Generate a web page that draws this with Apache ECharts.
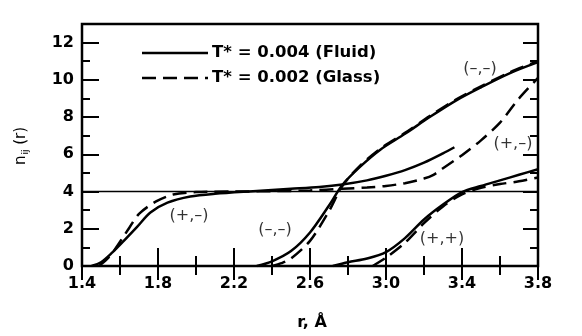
<!DOCTYPE html>
<html>
<head>
<meta charset="utf-8">
<script src="https://cdn.jsdelivr.net/npm/echarts@6/dist/echarts.min.js"></script>
<style>html,body{margin:0;padding:0;background:#fff;}#c{width:582px;height:336px;}</style>
</head>
<body>
<div id="c"></div>
<script>
// ---- data ----
const xTicks = [1.4, 1.8, 2.2, 2.6, 3.0, 3.4, 3.8];
const yTicks = [0, 2, 4, 6, 8, 10, 12];

const fluidPM_r = [1.45, 1.5, 1.56, 1.62, 1.69, 1.76, 1.85, 1.97, 2.1, 2.3, 2.5, 2.65, 2.77, 2.9, 3.0, 3.1, 3.2, 3.3, 3.36];
const fluidPM_n = [0, 0.2, 0.73, 1.35, 2.1, 2.87, 3.4, 3.73, 3.88, 4.02, 4.15, 4.25, 4.38, 4.6, 4.85, 5.15, 5.55, 6.05, 6.38];

const glassPM_r = [1.49, 1.53, 1.57, 1.61, 1.65, 1.7, 1.79, 1.88, 2.0, 2.2, 2.4, 2.6, 2.77, 2.9, 3.0, 3.1, 3.2, 3.25, 3.3, 3.4, 3.5, 3.6, 3.7, 3.8];
const glassPM_n = [0, 0.35, 0.85, 1.45, 2.07, 2.8, 3.47, 3.84, 3.97, 4.0, 4.02, 4.06, 4.15, 4.22, 4.3, 4.45, 4.7, 4.9, 5.25, 5.95, 6.75, 7.7, 9.0, 10.1];

const fluidMM_r = [2.32, 2.4, 2.5, 2.6, 2.7, 2.77, 2.86, 2.97, 3.1, 3.23, 3.37, 3.5, 3.65, 3.8];
const fluidMM_n = [0, 0.25, 0.8, 1.8, 3.25, 4.35, 5.3, 6.25, 7.1, 8.0, 8.9, 9.6, 10.35, 10.95];

const glassMM_r = [2.4, 2.45, 2.5, 2.6, 2.7, 2.77, 2.86, 2.97, 3.1, 3.23, 3.37, 3.5, 3.65, 3.8];
const glassMM_n = [0, 0.15, 0.4, 1.35, 2.95, 4.3, 5.35, 6.3, 7.15, 8.05, 8.95, 9.65, 10.4, 11.0];

const fluidPP_r = [2.72, 2.8, 2.9, 3.0, 3.1, 3.2, 3.3, 3.4, 3.5, 3.6, 3.7, 3.8];
const fluidPP_n = [0, 0.2, 0.4, 0.75, 1.5, 2.5, 3.3, 3.97, 4.3, 4.6, 4.9, 5.2];

const glassPP_r = [2.93, 3.0, 3.1, 3.2, 3.3, 3.4, 3.5, 3.6, 3.7, 3.8];
const glassPP_n = [0, 0.45, 1.25, 2.3, 3.2, 3.85, 4.2, 4.4, 4.55, 4.75];

const refLine_r = [1.4, 3.8];
const refLine_n = [4, 4];

const annoText = ['(+,–)', '(–,–)', '(+,+)', '(–,–)', '(+,–)'];
const annoR    = [1.963, 2.416, 3.295, 3.495, 3.668];
const annoN    = [2.72, 1.92, 1.44, 10.6, 6.56];

const fluidName = 'T* = 0.004 (Fluid)';
const glassName = 'T* = 0.002 (Glass)';

// ---- build ----
const pairs = (xs, ys) => xs.map((x, i) => [x, ys[i]]);
const FONT = 'DejaVu Sans';
const DASH = [14, 7];

function curve(name, xs, ys, dashed) {
  return {
    type: 'line', name, data: pairs(xs, ys), smooth: 0.3, symbol: 'none',
    xAxisIndex: 0, yAxisIndex: 0,
    lineStyle: { color: '#000', width: 2.5, type: dashed ? DASH : 'solid' },
    itemStyle: { color: '#000' }, z: 3
  };
}

const chart = echarts.init(document.getElementById('c'), null, { renderer: 'canvas' });
const gridBox = { left: 82, right: 44, top: 24, bottom: 69 };
const yMax = 13;

function legendRow(y, name, dashed) {
  return [
    { type: 'line', shape: { x1: 142, y1: y, x2: 208, y2: y },
      style: { stroke: '#000', lineWidth: 2.5, lineDash: dashed ? DASH : null } },
    { type: 'text', x: 212, y: y, style: { text: name, fill: '#000', fontFamily: FONT,
      fontWeight: 'bold', fontSize: 16.5, verticalAlign: 'middle', align: 'left' } }
  ];
}

const option = {
  animation: false,
  backgroundColor: '#fff',
  grid: Object.assign({ show: true, borderColor: '#000', borderWidth: 2.5, backgroundColor: 'transparent' }, gridBox),
  xAxis: [
    { type: 'value', min: xTicks[0], max: xTicks[xTicks.length - 1], interval: 0.4, position: 'bottom',
      axisLine: { show: false }, splitLine: { show: false },
      axisTick: { inside: true, length: 18, lineStyle: { color: '#000', width: 2 } },
      minorTick: { show: true, splitNumber: 2, length: 10, lineStyle: { color: '#000', width: 2 } },
      axisLabel: { margin: 10, color: '#000', fontFamily: FONT, fontWeight: 'bold', fontSize: 16,
        formatter: v => v.toFixed(1) },
      name: 'r, Å', nameLocation: 'middle', nameGap: 49,
      nameTextStyle: { color: '#000', fontFamily: FONT, fontWeight: 'bold', fontSize: 16, padding: [0, 0, 0, 4] } },
    { type: 'value', min: xTicks[0], max: xTicks[xTicks.length - 1], interval: 0.4, position: 'top',
      axisLine: { show: false }, splitLine: { show: false }, axisLabel: { show: false },
      axisTick: { inside: true, length: 14, lineStyle: { color: '#000', width: 2 } },
      minorTick: { show: true, splitNumber: 2, length: 9, lineStyle: { color: '#000', width: 2 } } }
  ],
  yAxis: [
    { type: 'value', min: 0, max: yMax, interval: 2, position: 'left',
      axisLine: { show: false }, splitLine: { show: false },
      axisTick: { inside: true, length: 17, lineStyle: { color: '#000', width: 2 } },
      axisLabel: { margin: 8, color: '#000', fontFamily: FONT, fontWeight: 'bold', fontSize: 16,
        showMaxLabel: false, formatter: v => (yTicks.indexOf(v) >= 0 ? String(v) : '') } },
    { type: 'value', min: 0, max: yMax, interval: 1, position: 'left',
      axisLine: { show: false }, splitLine: { show: false }, axisLabel: { show: false },
      axisTick: { inside: true, length: 8, lineStyle: { color: '#000', width: 2 } } },
    { type: 'value', min: 0, max: yMax, interval: 2, position: 'right',
      axisLine: { show: false }, splitLine: { show: false }, axisLabel: { show: false },
      axisTick: { inside: true, length: 15, lineStyle: { color: '#000', width: 2 } } },
    { type: 'value', min: 0, max: yMax, interval: 1, position: 'right',
      axisLine: { show: false }, splitLine: { show: false }, axisLabel: { show: false },
      axisTick: { inside: true, length: 8, lineStyle: { color: '#000', width: 2 } } }
  ],
  graphic: [
    ...legendRow(53, fluidName, false),
    ...legendRow(78, glassName, true),
    {
      type: 'text', x: 21, y: 146, rotation: Math.PI / 2,
      style: {
        text: '{a|n}{b|ij}{a| (r)}', fill: '#000', align: 'center', verticalAlign: 'middle',
        rich: {
          a: { fontFamily: FONT, fontSize: 15, fill: '#000' },
          b: { fontFamily: FONT, fontSize: 9, fill: '#000', padding: [9, 0, 0, 1] }
        }
      }
    }
  ],
  series: [
    { type: 'line', name: 'ref', data: pairs(refLine_r, refLine_n), symbol: 'none',
      lineStyle: { color: '#000', width: 1.5 }, z: 2 },
    curve(fluidName, fluidPM_r, fluidPM_n, false),
    curve(glassName, glassPM_r, glassPM_n, true),
    curve(fluidName, fluidMM_r, fluidMM_n, false),
    curve(glassName, glassMM_r, glassMM_n, true),
    curve(fluidName, fluidPP_r, fluidPP_n, false),
    curve(glassName, glassPP_r, glassPP_n, true),
    { type: 'scatter', name: 'annotations', symbolSize: 0, silent: true,
      data: annoText.map((t, i) => ({ value: [annoR[i], annoN[i]], label: { formatter: t } })),
      label: { show: true, position: 'inside', color: '#000', fontFamily: FONT, fontSize: 16 } }
  ]
};
chart.setOption(option);
</script>
</body>
</html>
